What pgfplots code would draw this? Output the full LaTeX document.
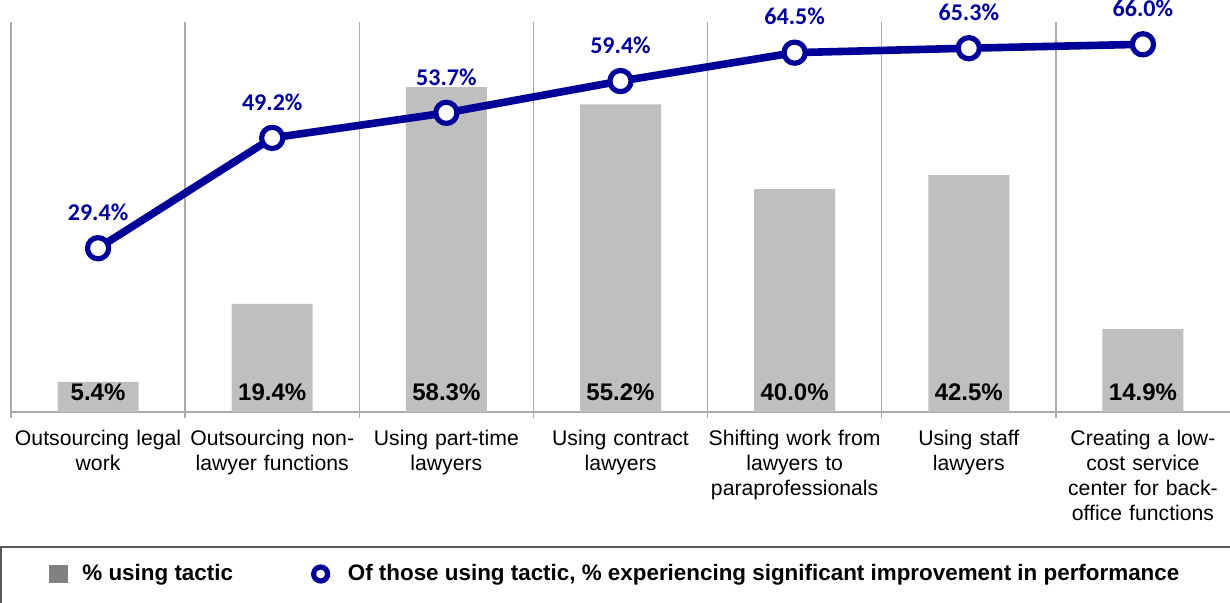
\documentclass[border=0pt]{standalone}
\usepackage{fontspec}
\setmainfont{Liberation Sans}
\newfontfamily\calibri{Carlito}
\usepackage{pgfplots}
\pgfplotsset{compat=1.18}
\definecolor{navy}{RGB}{0,0,153}
\definecolor{bargray}{RGB}{191,191,191}
\definecolor{gridgray}{RGB}{170,170,170}
\definecolor{legendgray}{RGB}{128,128,128}
\definecolor{boxgray}{RGB}{90,90,90}
\begin{document}
\begin{tikzpicture}
\useasboundingbox (-5.5pt,-95pt) rectangle (609.5pt,206pt);
\begin{axis}[
  at={(0,0)}, anchor=south west,
  scale only axis, width=609.5pt, height=195pt,
  xmin=-0.5, xmax=6.5, ymin=0, ymax=70,
  axis x line*=bottom, axis y line=none,
  ytick=\empty,
  xtick={0,...,6},
  xticklabels={{Outsourcing legal\\work},{Outsourcing non-\\lawyer functions},{Using part-time\\lawyers},{Using contract\\lawyers},{Shifting work from\\lawyers to\\paraprofessionals},{Using staff\\lawyers},{Creating a low-\\cost service\\center for back-\\office functions}},
  major tick length=0pt,
  minor xtick={-0.5,0.5,...,5.5},
  xminorgrids,
  minor x grid style={gridgray, line width=0.7pt},
  minor x tick style={gridgray, line width=0.7pt},
  minor tick length=3pt, tick align=outside,
  x axis line style={gridgray, line width=0.8pt},
  xticklabel style={font=\fontsize{10.6}{12.5}\selectfont, text width=90pt, align=center, anchor=north, yshift=-5.5pt},
  /pgf/number format/assume math mode=true,
  clip=false,
  legend columns=2,
  legend style={draw=none, fill=none, at={(0.0312,-0.4154)}, anchor=west, inner sep=0pt,
    font=\bfseries\fontsize{11.2}{13}\selectfont,
    /tikz/every even column/.append style={column sep=37pt}},
]
\addplot[ybar, bar width=40.5pt, fill=bargray, draw=none,
  visualization depends on={y \as \barval},
  nodes near coords={\pgfmathprintnumber[fixed,fixed zerofill,precision=1]{\pgfplotspointmeta}\%},
  every node near coord/.append style={font=\bfseries\fontsize{12}{14}\selectfont, text=black, anchor=center, shift={(axis direction cs:0,-\barval)}, yshift=10pt},
  legend image code/.code={\fill[legendgray] (0pt,-4.6pt) rectangle (9.2pt,4.6pt); \path (14.5pt,0pt);}
] coordinates {(0,5.4)(1,19.4)(2,58.3)(3,55.2)(4,40.0)(5,42.5)(6,14.9)};
\addlegendentry{\% using tactic}
\addplot[navy, line width=3.8pt, line join=round, mark=*, mark size=5.3pt,
  mark options={fill=white, draw=navy, line width=2.6pt},
  nodes near coords={\pgfmathprintnumber[fixed,fixed zerofill,precision=1]{\pgfplotspointmeta}\%},
  every node near coord/.append style={font=\calibri\bfseries\fontsize{12}{14}\selectfont, text=navy, anchor=center, yshift=18pt},
  legend image code/.code={\draw[navy, line width=2.6pt, fill=white] (4.3pt,0pt) circle (3.5pt); \path (14pt,0pt);}
] coordinates {(0,29.4)(1,49.2)(2,53.7)(3,59.4)(4,64.5)(5,65.3)(6,66.0)};
\addlegendentry{Of those using tactic, \% experiencing significant improvement in performance}
\end{axis}
\draw[boxgray, line width=0.8pt] (-5pt,-67.5pt) rectangle (611pt,-100pt);
\end{tikzpicture}
\end{document}
